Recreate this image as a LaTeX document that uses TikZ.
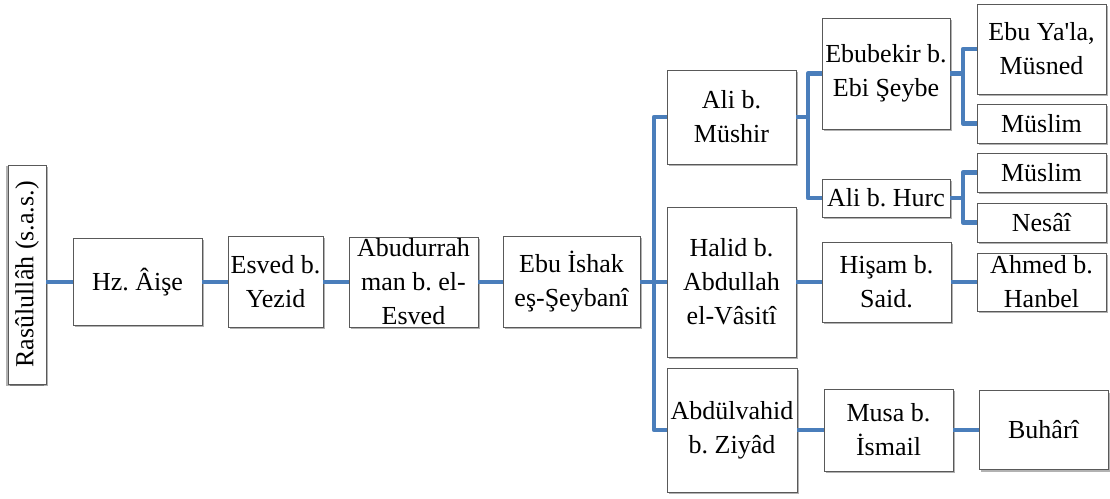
\documentclass[tikz,border=0pt]{standalone}
\usepackage{fontspec}
\setmainfont{Liberation Serif}
\usetikzlibrary{shadows}
\definecolor{ramo}{RGB}{74,126,187}
\frenchspacing

\begin{document}
\begin{tikzpicture}[x=1pt,y=1pt,font=\fontsize{26}{34}\selectfont,
  nodo/.style 2 args={draw=gray!70!black, fill=white, line width=.8pt, inner sep=0pt, align=center,
    minimum width=#1, minimum height=#2,
    drop shadow={shadow xshift=1.5pt, shadow yshift=-2pt, opacity=.3, fill=black}},
  ramo/.style={draw=ramo, line width=4.5pt, line join=round}]
\useasboundingbox (0,0) rectangle (1110,498);

% zincir
\node[nodo={219}{38}, rotate=90, drop shadow={shadow xshift=-2pt, shadow yshift=-1.5pt, opacity=.3, fill=black}] (ras) at (27,223.5) {Rasûlullâh (s.a.s.)};
\node[nodo={129}{87}] (aise) at (137.5,216) {Hz. Âişe};
\node[nodo={95}{91}] (esved) at (275.5,216) {Esved b.\\Yezid};
\node[nodo={129}{90}, label={[align=center]center:Abudurrah\\man b. el-\\Esved}] (abdur) at (413.5,216) {};
\node[nodo={137}{91}] (ishak) at (571.5,216) {Ebu İshak\\eş-Şeybanî};

% ikinci kol
\node[nodo={129}{94}] (ali) at (731.5,381) {Ali b.\\Müshir};
\node[nodo={129}{150}] (halid) at (731.5,216) {Halid b.\\Abdullah\\el-Vâsitî};
\node[nodo={130}{124}] (abdulv) at (732,68) {Abdülvahid\\b. Ziyâd};

\node[nodo={128}{111}] (ebubekir) at (886,424.5) {Ebubekir b.\\Ebi Şeybe};
\node[nodo={128}{38}] (hurc) at (886,300) {Ali b. Hurc};
\node[nodo={129}{80}] (hisam) at (886.5,216) {Hişam b.\\Said.};
\node[nodo={129}{82}] (musa) at (888.5,68) {Musa b.\\İsmail};

\node[nodo={129}{90}] (yala) at (1041.5,449) {Ebu Ya\textquotesingle la,\\Müsned};
\node[nodo={129}{39}] (muslima) at (1041.5,374.5) {Müslim};
\node[nodo={129}{39}] (muslimb) at (1041.5,325.5) {Müslim};
\node[nodo={129}{39}] (nesai) at (1041.5,275.5) {Nesâî};
\node[nodo={129}{58}, label={[align=center]center:Ahmed b.\\Hanbel}] (ahmed) at (1041.5,216) {};
\node[nodo={129}{79}] (buhari) at (1043.5,68) {Buhârî};

\coordinate (t1) at (654,216);
\coordinate (t2) at (808,381);
\coordinate (t3) at (963,424.5);
\coordinate (t4) at (963,300);

\draw[ramo] (ras.south |- aise.west) -- (aise.west);
\draw[ramo] (aise) -- (esved);
\draw[ramo] (esved) -- (abdur);
\draw[ramo] (abdur) -- (ishak);
\draw[ramo] (ishak) -- (halid);
\draw[ramo] (ali.west) -| (t1) |- (abdulv.west);

\draw[ramo] (ali.east) -- (t2);
\draw[ramo] (ebubekir.west) -| (t2) |- (hurc.west);
\draw[ramo] (ebubekir.east) -- (t3);
\draw[ramo] (yala.west) -| (t3) |- (muslima.west);
\draw[ramo] (hurc.east) -- (t4);
\draw[ramo] (muslimb.west) -| (t4) |- (nesai.west);

\draw[ramo] (halid) -- (hisam);
\draw[ramo] (hisam) -- (ahmed);
\draw[ramo] (abdulv) -- (musa);
\draw[ramo] (musa) -- (buhari);

\end{tikzpicture}
\end{document}
